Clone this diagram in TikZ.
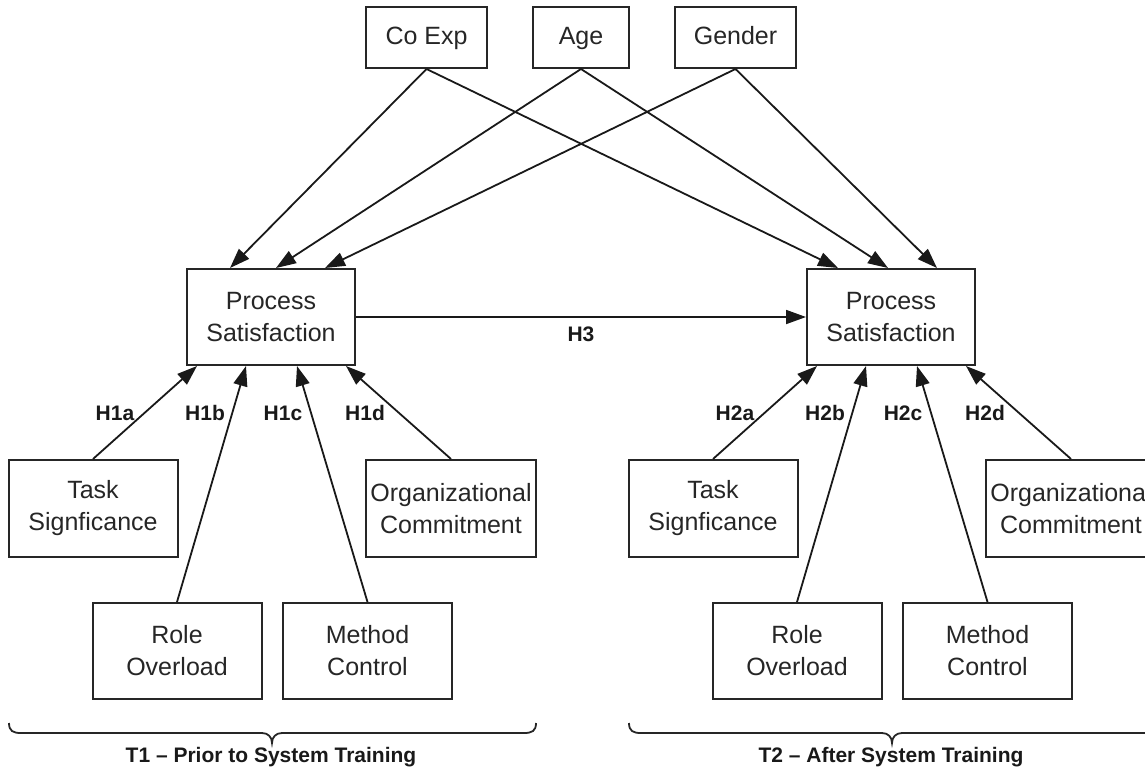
\documentclass[tikz,border=0pt]{standalone}
\usepackage{fontspec}
\setmainfont{Liberation Sans}
\usetikzlibrary{arrows.meta,calc}
\begin{document}
\begin{tikzpicture}[x=1pt,y=-1pt,
  box/.style={draw=black!85, line width=2pt, inner sep=0pt, align=center,
    font=\fontsize{25}{32}\selectfont, text=black!85},
  topbox/.style={box, minimum height=61pt, text height=18pt, text depth=5pt},
  midbox/.style={box, minimum width=168pt, minimum height=96pt},
  lowbox/.style={box, minimum width=169pt, minimum height=97pt},
  link/.style={line width=1.8pt, draw=black!90, -{Triangle[length=20pt,width=14pt]}},
  hlabel/.style={font=\bfseries\fontsize{21}{24}\selectfont, inner sep=0pt, text=black!90},
  brace/.style={line width=1.8pt, draw=black!85}
]
\useasboundingbox (0,0) rectangle (1145,774);

% control variables
\node[topbox, minimum width=121pt] (coexp)  at (426.5,37.5) {Co Exp};
\node[topbox, minimum width=96pt]  (age)    at (581,37.5)   {Age};
\node[topbox, minimum width=121pt] (gender) at (735.5,37.5) {Gender};

% process satisfaction at T1 and T2
\node[midbox] (ps1) at (271,317) {Process\\Satisfaction};
\node[midbox] (ps2) at (891,317) {Process\\Satisfaction};

% controls into both outcomes
\draw[link] (coexp.south)  -- ([xshift=-41pt]ps1.north);
\draw[link] (age.south)    -- ([xshift=5pt]ps1.north);
\draw[link] (gender.south) -- ([xshift=54pt]ps1.north);
\draw[link] (coexp.south)  -- ([xshift=-53pt]ps2.north);
\draw[link] (age.south)    -- ([xshift=-3pt]ps2.north);
\draw[link] (gender.south) -- ([xshift=46pt]ps2.north);

% H3
\draw[link] (ps1.east) -- node[midway, below=9pt, hlabel] (h3) {H3} (ps2.west);

% antecedents for each period
\foreach \s/\i/\per in {0/1/{T1 – Prior to System Training}, 620/2/{T2 – After System Training}} {
  \node[lowbox] (task\i)   at (93+\s,508.5)  {Task\\Signficance};
  \node[lowbox, minimum width=170pt] (org\i) at (451+\s,508.5) {Organizational\\Commitment};
  \node[lowbox, minimum height=96pt] (role\i)   at (177+\s,651) {Role\\Overload};
  \node[lowbox, minimum height=96pt] (method\i) at (367.5+\s,651) {Method\\Control};

  \draw[link] (task\i.north)   -- ([xshift=-74pt]ps\i.south);
  \draw[link] (role\i.north)   -- ([xshift=-25pt]ps\i.south);
  \draw[link] (method\i.north) -- ([xshift=26pt]ps\i.south);
  \draw[link] (org\i.north)    -- ([xshift=75pt]ps\i.south);

  \node[hlabel] (ha\i) at (115+\s,413) {H\i a};
  \node[hlabel] (hb\i) at (205+\s,413) {H\i b};
  \node[hlabel] (hc\i) at (283+\s,413) {H\i c};
  \node[hlabel] (hd\i) at (365+\s,413) {H\i d};

  % period brace
  \draw[brace] (9+\s,723) .. controls (9+\s,731) and (13+\s,733) .. (21+\s,733)
    -- (262+\s,733) .. controls (268+\s,733) and (272+\s,737) .. (272+\s,743)
    .. controls (272+\s,737) and (276+\s,733) .. (282+\s,733)
    -- (524+\s,733) .. controls (532+\s,733) and (536+\s,731) .. (536+\s,723);
  \node[hlabel] (period\i) at (271+\s,757) {\per};
}
\end{tikzpicture}
\end{document}
